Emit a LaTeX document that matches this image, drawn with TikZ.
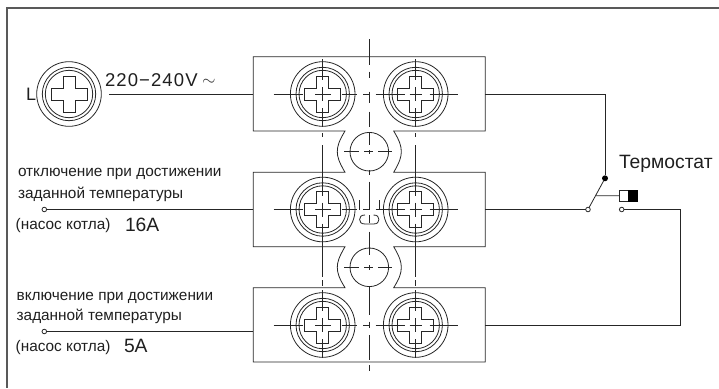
\documentclass[tikz,border=0pt]{standalone}
\usepackage{fontspec}
\setmainfont{Liberation Sans}
\tikzset{
  ln/.style={line width=0.8pt,draw=black!85},
  frameline/.style={line width=1.4pt,draw=black!65},
  lbl/.style={anchor=base west,inner sep=0pt,outer sep=0pt,text=black!88},
  small/.style={lbl,font=\fontsize{15.35}{16}\selectfont},
  big/.style={lbl,font=\fontsize{19.3}{20}\selectfont},
  term/.style={circle,draw=black!85,line width=0.8pt,fill=white,minimum size=4.6pt,inner sep=0pt,outer sep=0pt},
  dotn/.style={circle,fill=black,minimum size=6pt,inner sep=0pt,outer sep=0pt},
  screwbody/.pic={
    \draw[ln] (0,0) circle (32.3) (0,0) circle (26.7) (0,0) circle (23.7);
    \draw[ln] (-6,-18) -- (6,-18) -- (6,-6) -- (18,-6) -- (18,6) -- (6,6) -- (6,18) -- (-6,18) -- (-6,6) -- (-18,6) -- (-18,-6) -- (-6,-6) -- cycle;
  }
}
\begin{document}
\begin{tikzpicture}[x=1pt,y=-1pt]
\useasboundingbox (0,0) rectangle (719,388);
% frame
\draw[frameline] (719,8) -- (7,8) -- (7,388);
% blocks with notches
\draw[ln] (485.3,56.7) -- (253.3,56.7) -- (253.3,131) -- (345,131)
  .. controls (339,141) and (337.3,146) .. (337.3,151.7) .. controls (337.3,157) and (339,162) .. (345,172.3)
  -- (253.3,172.3) -- (253.3,246.7) -- (345,246.7)
  .. controls (339,257) and (337.3,262) .. (337.3,267.3) .. controls (337.3,273) and (339,278) .. (345,287.7)
  -- (253.3,287.7) -- (253.3,362) -- (485.3,362) -- (485.3,287.7) -- (393.7,287.7)
  .. controls (399.7,278) and (401.3,273) .. (401.3,267.3) .. controls (401.3,262) and (399.7,257) .. (393.7,246.7)
  -- (485.3,246.7) -- (485.3,172.3) -- (393.7,172.3)
  .. controls (399.7,162) and (401.3,157) .. (401.3,151.7) .. controls (401.3,146) and (399.7,141) .. (393.7,131)
  -- (485.3,131) -- cycle;
% screws
\pic at (69,94) {screwbody};
\foreach \cy in {94,209.5,325}{
  \foreach \cx in {322.7,415.7}{
    \pic at (\cx,\cy) {screwbody};
    \draw[ln] (\cx,\cy-34.7) -- (\cx,\cy-14) (\cx,\cy-7) -- (\cx,\cy+7) (\cx,\cy+14) -- (\cx,\cy+32.7);
  }
  \draw[ln] (322.7-49,\cy) -- (322.7-19.3,\cy) (322.7-7.7,\cy) -- (322.7+8,\cy) (322.7+19,\cy) -- (322.7+34.7,\cy);
  \draw[ln] (415.7-40,\cy) -- (415.7-11,\cy) (415.7-6,\cy) -- (415.7+6,\cy) (415.7+14,\cy) -- (415.7+42.7,\cy);
  \draw[ln] (363.3,\cy) -- (369.3,\cy);
}
% vertical centre lines of the screws across the gaps
\foreach \cx in {322.7,415.7}{
  \draw[ln] (\cx,133) -- (\cx,137) (\cx,145) -- (\cx,178) (\cx,232) -- (\cx,277) (\cx,280) -- (\cx,286);
}
% middle axis
\draw[ln] (369.3,39.3) -- (369.3,65) (369.3,71.7) -- (369.3,78.3) (369.3,91.7) -- (369.3,103.3)
  (369.3,111.7) -- (369.3,126.7) (369.3,133) -- (369.3,145) (369.3,150) -- (369.3,154)
  (369.3,170) -- (369.3,175) (369.3,181.7) -- (369.3,210) (369.3,215) -- (369.3,223)
  (369.3,231.7) -- (369.3,255) (369.3,265) -- (369.3,270) (369.3,286) -- (369.3,315)
  (369.3,321.7) -- (369.3,328) (369.3,335) -- (369.3,360) (369.3,365) -- (369.3,370.7);
% small holes
\foreach \cy in {151.7,267.3}{
  \draw[ln] (369.3,\cy) circle (19.3);
  \draw[ln] (369.3-25,\cy) -- (369.3-10,\cy) (369.3-5,\cy) -- (369.3+4,\cy) (369.3+9,\cy) -- (369.3+23,\cy);
}
% central clip
\draw[ln] (359.3,200) -- (359.3,210) (379.3,200) -- (379.3,210);
\draw[ln] (365,215) .. controls (361,215) and (359.6,217) .. (359.6,219.5) .. controls (359.6,222) and (361,224) .. (365,224)
  -- (373.5,224) .. controls (377.5,224) and (378.9,222) .. (378.9,219.5) .. controls (378.9,217) and (377.5,215) .. (373.5,215);

% terminals
\coordinate (b1l) at (253.3,94);
\coordinate (b1r) at (485.3,94);
\coordinate (b2l) at (253.3,209.5);
\coordinate (b2r) at (485.3,209.5);
\coordinate (b3l) at (253.3,331.5);
\coordinate (b3r) at (485.3,325);
\coordinate (lout) at (109,94);
\coordinate (c1) at (605,94);
\coordinate (c2) at (680.3,209.5);
\coordinate (c3) at (680.3,325);
\coordinate (armj) at (596,195.7);
\node[dotn] (pivot) at (605,178.3) {};
\node[term] (contactA) at (588,209.5) {};
\node[term] (contactB) at (621.7,209.5) {};
\node[term] (in16) at (44.3,209.5) {};
\node[term] (in5) at (44.3,331.5) {};
\node[draw=black!85,line width=0.8pt,fill=white,minimum width=8.7pt,minimum height=11.7pt,inner sep=0pt,outer sep=0pt,anchor=west] (boxw) at (619.3,195.8) {};
\node[draw=black,line width=0.8pt,fill=black,minimum width=9pt,minimum height=11.7pt,inner sep=0pt,outer sep=0pt,anchor=west] (boxb) at (boxw.east) {};

% wires
\draw[ln] (lout) -- (b1l);
\draw[ln] (b1r) -- (c1) -- (pivot);
\draw[ln] (pivot) -- (contactA);
\draw[ln] (b2r) -- (contactA);
\draw[ln] (armj) -- (boxw);
\draw[ln] (contactB) -- (c2) -- (c3) -- (b3r);
\draw[ln] (in16) -- (b2l);
\draw[ln] (in5) -- (b3l);

% labels
\node[big,font=\fontsize{18}{20}\selectfont] (L) at (26,100) {L};
\node[big,font=\fontsize{18.5}{20}\selectfont\addfontfeature{LetterSpace=6}] (volt) at (105,86) {220−240V};
\node[lbl,text=black!80,font=\fontsize{18}{20}\selectfont] (ac) at (202,85) {$\sim$};
\node[big] (t) at (619,168) {Термостат};
\node[small] (a1) at (18,176.7) {отключение при достижении};
\node[small] (a2) at (18,198) {заданной температуры};
\node[small] (a3) at (15.7,229) {(насос котла)};
\node[big] (a4) at (125,231) {16A};
\node[small] (b1) at (16.7,300) {включение при достижении};
\node[small] (b2) at (16.7,320) {заданной температуры};
\node[small] (b3) at (15.7,351.7) {(насос котла)};
\node[big] (b4) at (124,352.7) {5A};
\end{tikzpicture}
\end{document}
